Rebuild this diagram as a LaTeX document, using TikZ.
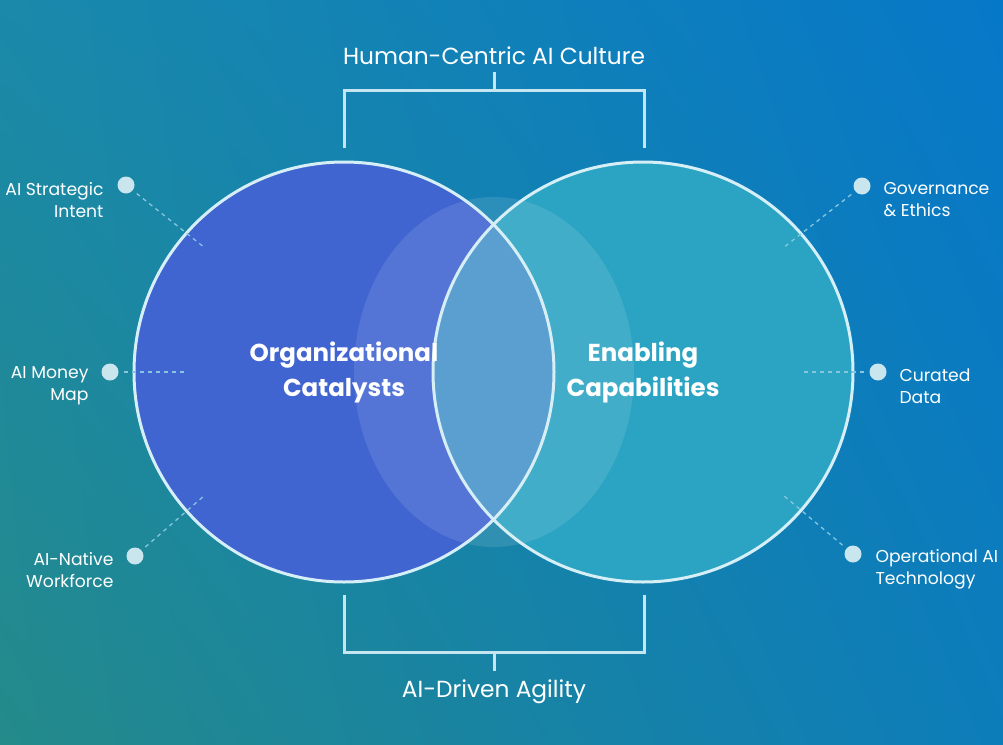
\documentclass[tikz,border=0pt]{standalone}
\usepackage{fontspec}
\setmainfont{Poppins}
\usetikzlibrary{shapes.geometric,shadings}

\definecolor{bgtl}{HTML}{1A89AA}
\definecolor{bgtr}{HTML}{0678C8}
\definecolor{bgbl}{HTML}{248A8A}
\definecolor{bgbr}{HTML}{0D7DBA}
\definecolor{orgblue}{HTML}{4064D0}
\definecolor{capteal}{HTML}{2AA4C2}
\definecolor{lensblue}{HTML}{5A9FD0}
\definecolor{ringc}{HTML}{D6EEF6}
\definecolor{brackc}{HTML}{C5E5F0}
\definecolor{dotc}{HTML}{C9E6EE}
\definecolor{leadc}{HTML}{86C6DE}

\tikzset{
  disc/.style={circle, minimum size=420pt, inner sep=0pt},
  ring/.style={circle, minimum size=420pt, inner sep=0pt, draw=ringc, line width=3pt},
  glow/.style={ellipse, minimum width=280pt, minimum height=350pt, inner sep=0pt, fill=white, fill opacity=0.11},
  maintext/.style={text=white, align=center, font=\fontsize{24.5}{35}\selectfont\bfseries},
  toplabel/.style={text=white, font=\fontsize{23.3}{26}\selectfont},
  leftlab/.style={text=white, align=right, anchor=east, font=\fontsize{17.2}{22}\selectfont},
  rightlab/.style={text=white, align=left, anchor=west, font=\fontsize{17.2}{22}\selectfont},
  dot/.style={circle, fill=dotc, minimum size=17pt, inner sep=0pt},
  bracket/.style={draw=brackc, line width=3pt},
  leader/.style={draw=leadc, line width=1.3pt, dash pattern=on 4pt off 4pt, shorten <=5pt}
}

\begin{document}
\begin{tikzpicture}[x=1pt,y=-1pt]

    %Fondo
    \shade[upper left=bgtl, upper right=bgtr, lower left=bgbl, lower right=bgbr] (0,0) rectangle (1003,744);
    \useasboundingbox (0,0) rectangle (1003,744);

    %Circulos
    \node[disc, fill=orgblue] (org) at (344,372) {};
    \node[disc, fill=capteal] (cap) at (643,372) {};
    \node[glow] (mid) at (494,372) {};
    \begin{scope}
        \clip (org.center) circle (210pt);
        \fill[lensblue] (cap.center) circle (210pt);
    \end{scope}
    \node[ring] (orgring) at (org) {};
    \node[ring] (capring) at (cap) {};
    \node[maintext] (orgt) at (344,372) {Organizational\\Catalysts};
    \node[maintext] (capt) at (643,372) {Enabling\\Capabilities};

    %Llave superior
    \node[toplabel] (culture) at (494,56) {Human-Centric AI Culture};
    \coordinate (cul1) at (344,148);
    \coordinate (cul2) at (644,148);
    \coordinate (culm) at (494,90);
    \draw[bracket] (cul1) |- (culm) -| (cul2);
    \draw[bracket, shorten >=3pt] (culm) -- (culture);

    %Llave inferior
    \node[toplabel] (agility) at (494,692) {AI-Driven Agility};
    \coordinate (agi1) at (344,595);
    \coordinate (agi2) at (644,595);
    \coordinate (agim) at (494,652);
    \draw[bracket] (agi1) |- (agim) -| (agi2);
    \draw[bracket, shorten >=5pt] (agim) -- (agility);

    %Etiquetas izquierda
    \node[dot] (d1) at (126,185) {};
    \node[dot] (d2) at (110,372) {};
    \node[dot] (d3) at (135,556) {};
    \node[leftlab] (l1) at (107,200) {AI Strategic\\Intent};
    \node[leftlab] (l2) at (92,386) {AI Money\\Map};
    \node[leftlab] (l3) at (117,570) {AI-Native\\Workforce};
    \coordinate (e1) at (205,248);
    \coordinate (e2) at (187,372);
    \coordinate (e3) at (205,495);
    \draw[leader] (d1) -- (e1);
    \draw[leader] (d2) -- (e2);
    \draw[leader] (d3) -- (e3);

    %Etiquetas derecha
    \node[dot] (d4) at (862,186) {};
    \node[dot] (d5) at (878,372) {};
    \node[dot] (d6) at (853,554) {};
    \node[rightlab] (l4) at (880,200) {Governance\\\& Ethics};
    \node[rightlab] (l5) at (896,386) {Curated\\Data};
    \node[rightlab] (l6) at (872,569) {Operational AI\\Technology};
    \coordinate (e4) at (783,248);
    \coordinate (e5) at (802,372);
    \coordinate (e6) at (783,495);
    \draw[leader] (d4) -- (e4);
    \draw[leader] (d5) -- (e5);
    \draw[leader] (d6) -- (e6);

\end{tikzpicture}
\end{document}
